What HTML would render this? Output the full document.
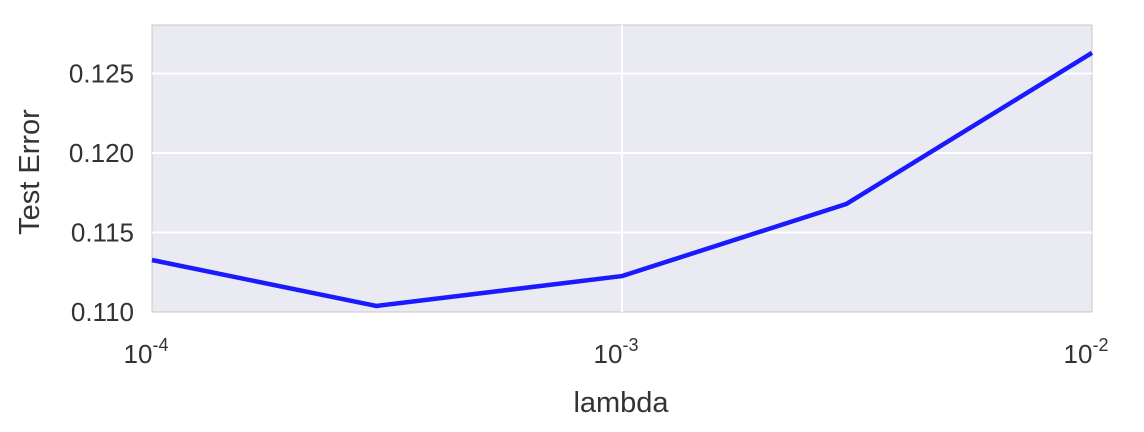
<!DOCTYPE html>
<html><head><meta charset="utf-8"><style>
body{margin:0;background:#fff;}
svg{display:block;font-family:"Liberation Sans",Arial,sans-serif;}
</style></head><body>
<svg id="chart" width="1144" height="432" viewBox="0 0 1144 432">
<rect x="152" y="25" width="940" height="287" fill="#eaeaf2" stroke="#c8c8c8" stroke-width="1"/>
<g id="grid"></g><g id="ticks"></g>
<path id="line" fill="none" stroke="#1a1aff" stroke-width="4.5" stroke-linejoin="round"/>
<text x="621" y="412" text-anchor="middle" font-size="29" fill="#333">lambda</text>
<text transform="translate(39,172) rotate(-90)" text-anchor="middle" font-size="29" fill="#333">Test Error</text>
</svg>
<script>
const lambdas=[1e-4,3e-4,1e-3,3e-3,1e-2];
const errors=[0.11327,0.11038,0.11226,0.11679,0.1263];
const yTicks=[0.110,0.115,0.120,0.125];
const yTickLabels=["0.110","0.115","0.120","0.125"];
const xTickExps=[-4,-3,-2];
const L=152,R=1092,T=25,B=312,ymin=0.110,ymax=0.12805;
const xs=v=>L+(Math.log10(v)+4)/2*(R-L);
const ys=v=>B-(v-ymin)/(ymax-ymin)*(B-T);
const NS="http://www.w3.org/2000/svg";
const grid=document.getElementById('grid'),ticks=document.getElementById('ticks');
yTicks.forEach((t,i)=>{
 const y=ys(t);
 if(i>0){const l=document.createElementNS(NS,'line');
 
 
 l.setAttribute('x1',L);l.setAttribute('x2',R);l.setAttribute('y1',y);l.setAttribute('y2',y);
 l.setAttribute('stroke','#fff');l.setAttribute('stroke-width','2');grid.appendChild(l);}
 const tx=document.createElementNS(NS,'text');
 
 
 tx.setAttribute('x',L-18);tx.setAttribute('y',y+9);tx.setAttribute('text-anchor','end');
 tx.setAttribute('font-size','26');tx.setAttribute('fill','#333');tx.textContent=yTickLabels[i];ticks.appendChild(tx);
});
xTickExps.forEach((e,i)=>{
 const x=xs(Math.pow(10,e));
 if(i==1){const l=document.createElementNS(NS,'line');
 
 
 l.setAttribute('x1',x);l.setAttribute('x2',x);l.setAttribute('y1',T);l.setAttribute('y2',B);
 l.setAttribute('stroke','#fff');l.setAttribute('stroke-width','2');grid.appendChild(l);}
 const tx=document.createElementNS(NS,'text');
 
 
 tx.setAttribute('x',x-6);tx.setAttribute('y',363);tx.setAttribute('text-anchor','middle');
 tx.setAttribute('font-size','26');tx.setAttribute('fill','#333');
 tx.innerHTML='10<tspan dy="-12" font-size="18">'+e+'</tspan>';ticks.appendChild(tx);
});
document.getElementById('line').setAttribute('d',lambdas.map((v,i)=>(i?'L':'M')+xs(v)+','+ys(errors[i])).join(' '));
</script>
</body></html>
